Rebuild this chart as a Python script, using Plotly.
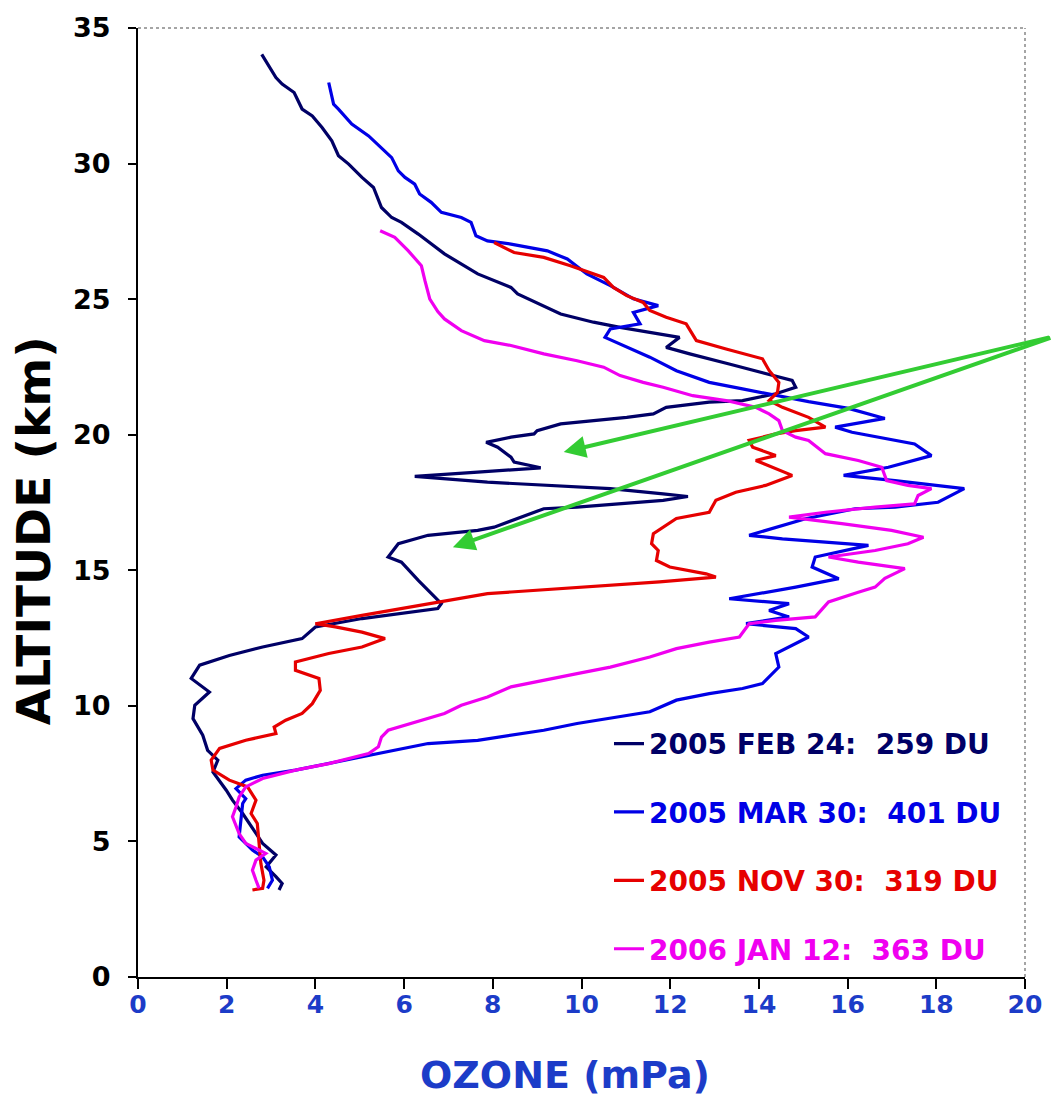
import plotly.graph_objects as go

# ---------------- data (ozone partial pressure mPa, altitude km) ----------------
feb24_ozone = [2.79, 3.11, 3.25, 3.52, 3.70, 3.93, 4.15, 4.37, 4.52, 4.75, 5.05, 5.31, 5.49, 5.72,
               5.94, 6.32, 6.91, 7.66, 8.41, 8.56, 9.53, 10.27, 10.87, 11.69, 12.21, 11.91, 12.44,
               13.33, 14.23, 14.75, 14.83, 14.38, 13.63, 12.88, 11.91, 11.62, 11.02, 10.27, 9.53,
               9.00, 8.93, 8.41, 7.85, 8.11, 8.41, 8.48, 9.08, 7.66, 6.24, 7.88, 9.15, 10.65, 11.84,
               12.40, 11.84, 11.02, 9.90, 9.15, 8.63, 8.03, 7.66, 6.54, 5.87, 5.64, 5.94, 6.32,
               6.84, 6.76, 5.05, 4.00, 3.70, 2.81, 2.06, 1.39, 1.20, 1.61, 1.28, 1.24, 1.46, 1.57,
               1.80, 1.69, 1.99, 2.13, 2.36, 2.62, 2.81, 3.11, 2.89, 3.11, 3.25, 3.18]
feb24_alt = [34.03, 33.17, 32.93, 32.62, 32.01, 31.76, 31.33, 30.84, 30.29, 29.98, 29.49, 29.12,
             28.38, 28.01, 27.83, 27.40, 26.67, 25.93, 25.43, 25.19, 24.45, 24.15, 23.96, 23.72,
             23.59, 23.22, 22.98, 22.61, 22.24, 22.00, 21.75, 21.51, 21.26, 21.20, 21.01, 20.77,
             20.64, 20.52, 20.40, 20.15, 20.03, 19.91, 19.72, 19.54, 19.17, 18.99, 18.78, 18.62,
             18.46, 18.25, 18.13, 18.01, 17.82, 17.72, 17.58, 17.48, 17.33, 17.27, 16.96, 16.59,
             16.47, 16.29, 15.98, 15.49, 15.30, 14.63, 13.77, 13.59, 13.22, 12.91, 12.48, 12.17,
             11.86, 11.50, 11.01, 10.51, 10.02, 9.53, 8.92, 8.36, 8.00, 7.56, 6.89, 6.52, 6.03,
             5.42, 4.93, 4.50, 4.06, 3.70, 3.45, 3.21]

mar30_ozone = [4.30, 4.34, 4.41, 4.52, 4.82, 5.20, 5.49, 5.72, 5.87, 6.02, 6.24, 6.35, 6.61, 6.84,
               7.29, 7.51, 7.62, 7.88, 8.41, 9.23, 9.68, 10.12, 10.65, 11.17, 11.73, 11.17, 11.32,
               10.65, 10.53, 10.87, 11.54, 12.14, 12.88, 13.63, 14.38, 15.12, 16.02, 16.84, 15.72,
               16.10, 17.51, 17.89, 16.92, 15.91, 17.07, 18.63, 18.04, 17.07, 16.17, 15.05, 13.78,
               14.53, 16.47, 15.27, 15.20, 15.80, 14.83, 13.33, 14.68, 14.23, 14.68, 13.71, 14.83,
               15.12, 14.38, 14.45, 14.08, 13.63, 12.88, 12.14, 11.54, 10.80, 9.90, 9.15, 8.41,
               7.66, 6.54, 5.79, 5.05, 4.30, 3.55, 2.81, 2.43, 2.21, 2.43, 2.36, 2.32, 2.28, 2.58,
               2.81, 2.96, 3.03, 2.92]
mar30_alt = [32.99, 32.68, 32.19, 32.01, 31.46, 31.02, 30.59, 30.22, 29.73, 29.49, 29.24, 28.88,
             28.57, 28.20, 28.01, 27.83, 27.34, 27.15, 27.03, 26.78, 26.48, 25.93, 25.50, 25.01,
             24.76, 24.51, 24.09, 23.90, 23.59, 23.35, 22.86, 22.36, 21.93, 21.69, 21.44, 21.22,
             20.97, 20.60, 20.28, 20.09, 19.66, 19.23, 18.80, 18.50, 18.31, 18.01, 17.51, 17.33,
             17.27, 16.90, 16.29, 16.16, 15.92, 15.49, 15.12, 14.69, 14.38, 13.95, 13.77, 13.52,
             13.28, 13.03, 12.85, 12.54, 11.93, 11.43, 10.82, 10.64, 10.45, 10.21, 9.78, 9.59,
             9.35, 9.10, 8.92, 8.73, 8.61, 8.36, 8.12, 7.87, 7.63, 7.44, 7.26, 6.95, 6.58, 6.40,
             5.66, 5.17, 4.68, 4.43, 4.06, 3.57, 3.27]

nov30_ozone = [8.03, 8.48, 9.15, 9.75, 10.50, 10.72, 11.02, 11.39, 11.54, 11.91, 12.36, 12.51,
               12.59, 13.26, 14.08, 14.23, 14.45, 14.42, 14.23, 14.53, 15.12, 15.50, 14.83, 14.38,
               13.78, 13.86, 14.38, 13.93, 14.75, 14.15, 13.48, 13.03, 12.88, 12.14, 11.62, 11.58,
               11.73, 11.69, 11.99, 12.81, 13.03, 11.76, 9.90, 8.41, 7.88, 6.54, 5.05, 4.00, 4.45,
               5.05, 5.57, 5.05, 4.30, 3.55, 3.55, 4.08, 4.11, 3.93, 3.70, 3.33, 3.07, 3.11, 2.43,
               1.84, 1.65, 1.69, 2.06, 2.47, 2.66, 2.55, 2.69, 2.73, 2.77, 2.84, 2.81, 2.58]
nov30_alt = [27.09, 26.72, 26.54, 26.23, 25.80, 25.43, 25.13, 24.88, 24.58, 24.33, 24.09, 23.72,
             23.47, 23.16, 22.80, 22.37, 21.93, 21.57, 21.26, 21.01, 20.64, 20.28, 20.15, 20.03,
             19.79, 19.54, 19.23, 19.05, 18.50, 18.13, 17.88, 17.58, 17.14, 16.91, 16.35, 15.98,
             15.73, 15.36, 15.12, 14.87, 14.75, 14.57, 14.38, 14.20, 14.14, 13.77, 13.34, 13.03,
             12.91, 12.72, 12.48, 12.17, 11.93, 11.62, 11.31, 11.01, 10.57, 10.08, 9.72, 9.47,
             9.22, 8.98, 8.73, 8.43, 8.00, 7.63, 7.26, 7.01, 6.52, 6.03, 5.66, 4.93, 4.19, 3.57,
             3.27, 3.21]

jan12_ozone = [5.46, 5.79, 6.09, 6.39, 6.47, 6.58, 6.76, 6.91, 7.29, 7.81, 8.41, 9.15, 9.90, 10.50,
               10.87, 11.39, 11.84, 12.51, 13.26, 13.93, 14.23, 14.45, 14.53, 14.83, 15.12, 15.50,
               16.24, 16.77, 16.88, 17.36, 17.89, 17.59, 17.51, 16.62, 15.50, 14.68, 15.87, 16.99,
               17.71, 17.36, 16.62, 15.57, 16.24, 17.29, 16.84, 16.62, 16.24, 15.57, 15.27, 14.38,
               13.78, 13.56, 12.88, 12.14, 11.54, 10.65, 9.90, 9.15, 8.41, 7.88, 7.29, 6.91, 6.17,
               5.64, 5.49, 5.42, 5.20, 4.30, 3.55, 2.81, 2.43, 2.28, 2.21, 2.13, 2.28, 2.43, 2.66,
               2.88, 2.66, 2.58, 2.66, 2.73]
jan12_alt = [27.52, 27.28, 26.79, 26.23, 25.68, 25.00, 24.54, 24.27, 23.84, 23.47, 23.29, 22.98,
             22.73, 22.49, 22.18, 21.93, 21.75, 21.44, 21.26, 21.01, 20.77, 20.52, 20.15, 19.91,
             19.79, 19.30, 19.05, 18.80, 18.31, 18.13, 18.01, 17.76, 17.45, 17.33, 17.14, 16.96,
             16.72, 16.47, 16.22, 15.98, 15.73, 15.49, 15.30, 15.06, 14.70, 14.38, 14.19, 13.83,
             13.28, 13.15, 13.03, 12.54, 12.35, 12.11, 11.80, 11.43, 11.19, 10.94, 10.70, 10.33,
             10.02, 9.72, 9.35, 9.10, 8.85, 8.49, 8.24, 7.87, 7.63, 7.32, 7.01, 6.64, 6.27, 5.91,
             5.29, 4.93, 4.74, 4.56, 4.31, 3.94, 3.57, 3.27]

series_labels = ["2005 FEB 24:  259 DU", "2005 MAR 30:  401 DU",
                 "2005 NOV 30:  319 DU", "2006 JAN 12:  363 DU"]
series_colors = ["#000066", "#0000E6", "#E60000", "#F000F0"]

x_ticks = [0, 2, 4, 6, 8, 10, 12, 14, 16, 18, 20]
y_ticks = [0, 5, 10, 15, 20, 25, 30, 35]
x_title = "OZONE (mPa)"
y_title = "ALTITUDE (km)"

# arrow heads (data coords)
arrow_heads = [(9.60, 19.36), (7.10, 15.85)]

# ---------------- figure ----------------
fig = go.Figure()
all_series = [(feb24_ozone, feb24_alt), (mar30_ozone, mar30_alt),
              (nov30_ozone, nov30_alt), (jan12_ozone, jan12_alt)]
for i, ((xs, ys), lab, col) in enumerate(zip(all_series, series_labels, series_colors)):
    fig.add_trace(go.Scatter(
        x=xs, y=ys, mode="lines",
        line=dict(color=col, width=3.2),
        name=f'<span style="color:{col}">{lab}</span>',
        legendgroup=f"g{i}",
    ))

blue_txt = "#1c3cc8"
fig.update_layout(
    width=1054, height=1105,
    margin=dict(l=138, r=23, t=27, b=128),
    plot_bgcolor="white", paper_bgcolor="white",
    showlegend=True,
    legend=dict(
        x=0.531, xanchor="left", y=0.272, yanchor="top",
        font=dict(family="DejaVu Sans", size=28, weight="bold"),
        tracegroupgap=29, traceorder="grouped",
        bgcolor="rgba(255,255,255,0)", borderwidth=0,
    ),
    xaxis=dict(
        range=[0, 20], tickvals=x_ticks, ticktext=[str(v) for v in x_ticks],
        showgrid=False, zeroline=False,
        showline=True, linecolor="black", linewidth=2,
        ticks="outside", ticklen=10, tickwidth=1.5, tickcolor="black",
        tickfont=dict(family="DejaVu Sans", size=25, color=blue_txt, weight="bold"),
        ticklabelstandoff=-6,
    ),
    yaxis=dict(
        range=[0, 35], tickvals=y_ticks, ticktext=[str(v) for v in y_ticks],
        showgrid=False, zeroline=False,
        showline=True, linecolor="black", linewidth=2,
        ticks="outside", ticklen=8, tickwidth=1.5, tickcolor="black",
        tickfont=dict(family="DejaVu Sans", size=27, color="black", weight="bold"),
        ticklabelstandoff=12,
    ),
    annotations=[
        dict(text=x_title, xref="paper", yref="paper", x=0.4815, y=-0.103,
             xanchor="center", yanchor="middle", showarrow=False,
             font=dict(family="DejaVu Sans", size=38, color=blue_txt, weight="bold")),
        dict(text=y_title, xref="paper", yref="paper", x=-0.117, y=0.47,
             xanchor="center", yanchor="middle", showarrow=False, textangle=-90,
             font=dict(family="DejaVu Sans", size=47, color="black", weight="bold")),
    ],
    shapes=[
        dict(type="line", xref="paper", yref="paper", x0=0, x1=1, y0=1, y1=1,
             line=dict(color="#888888", width=1.5, dash="dot")),
        dict(type="line", xref="paper", yref="paper", x0=1, x1=1, y0=0, y1=1,
             line=dict(color="#888888", width=1.5, dash="dot")),
    ],
)

# green arrows, tails off to the right edge of the picture
tail_offsets = [(487, -115), (599, -210)]
for (hx, hy), (axo, ayo) in zip(arrow_heads, tail_offsets):
    fig.add_annotation(x=hx, y=hy, xref="x", yref="y", ax=axo, ay=ayo,
                       text="", showarrow=True, arrowhead=2, arrowsize=1.1,
                       arrowwidth=4, arrowcolor="#33CC33")

fig.write_html("out.html")
